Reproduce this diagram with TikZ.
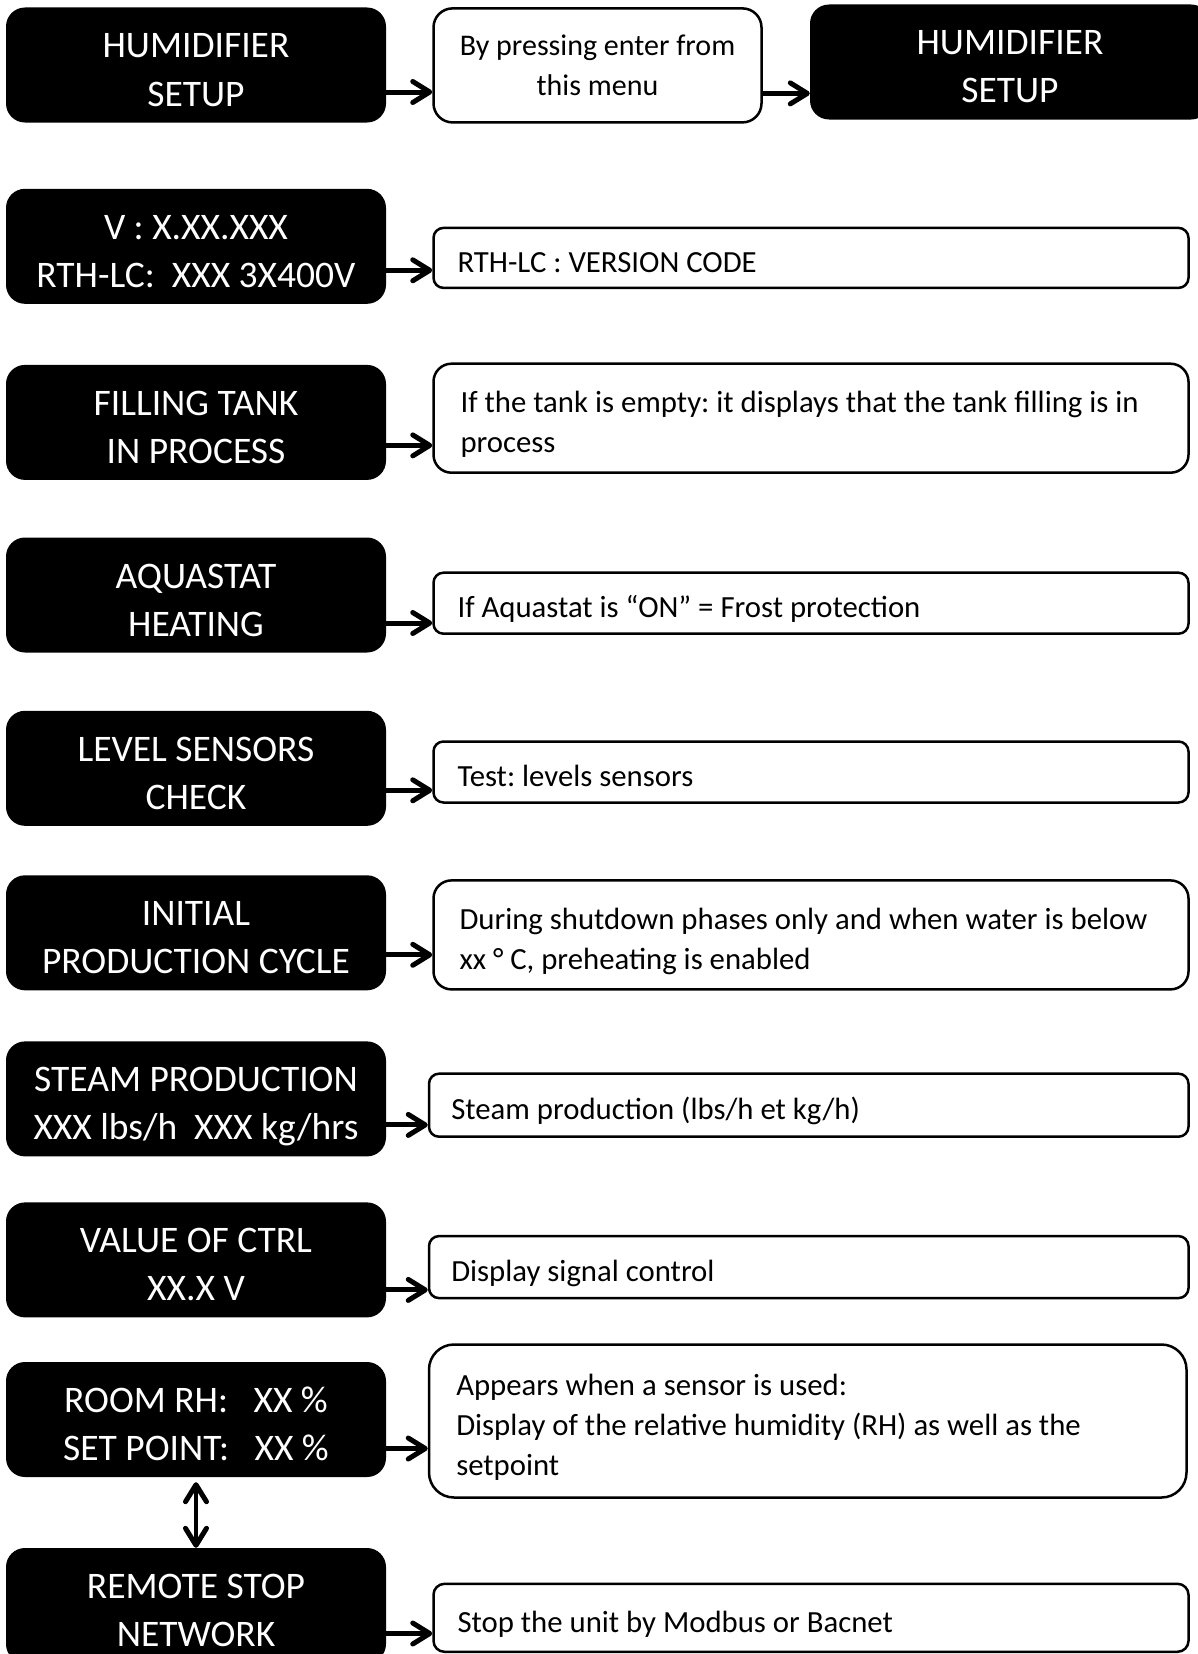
\documentclass[tikz,border=0pt]{standalone}
\usepackage{fontspec}
\setmainfont{Carlito}
\usetikzlibrary{arrows.meta,calc}
\newcommand\blktop{\rule{0pt}{42pt}}
\newcommand\blkbot{\rule[-8pt]{0pt}{8pt}}
\newcommand\whtop{\rule{0pt}{36pt}}
\newcommand\whbot{\rule[-7pt]{0pt}{7pt}}
\begin{document}
\frenchspacing
\begin{tikzpicture}[x=1pt,y=-1pt,
  blk/.style={fill=black,text=white,rounded corners=19pt,minimum width=380pt,minimum height=115pt,
    text width=376pt,align=flush center,inner sep=0pt,font=\fontsize{37.5}{48}\selectfont,
    execute at begin node=\blktop,execute at end node=\blkbot},
  wbox/.style={draw=black,line width=2.5pt,fill=white,minimum width=755pt,text width=707pt,
    align=flush left,inner xsep=24pt,inner ysep=0pt,font=\fontsize{30.75}{40}\selectfont,
    execute at begin node=\whtop,execute at end node=\whbot},
  tip/.tip={Straight Barb[length=17pt,width=21pt,line width=5pt,round]},
  arr/.style={line width=5pt,-tip},
  darr/.style={line width=4pt,tip-tip}]
\useasboundingbox (0,0) rectangle (1197,1654);
% row 1
\node[blk] (b1) at (196,65) {HUMIDIFIER\\SETUP};
\node[draw=black,line width=2.5pt,rounded corners=19pt,minimum width=328pt,minimum height=114pt,
  align=flush center,inner sep=0pt,font=\fontsize{30}{40}\selectfont] (m1) at (597.5,65.4) {By pressing enter from\\this menu};
\node[blk,minimum width=400pt] (r1) at (1010,62) {HUMIDIFIER\\SETUP};
% left column
\node[blk] (b2) at (196,246.3) {V : X.XX.XXX\\RTH-LC:\ \ XXX 3X400V};
\node[blk] (b3) at (196,422.4) {FILLING TANK\\IN PROCESS};
\node[blk] (b4) at (196,595) {AQUASTAT\\HEATING};
\node[blk] (b5) at (196,768.3) {LEVEL SENSORS\\CHECK};
\node[blk] (b6) at (196,932.8) {INITIAL\\PRODUCTION CYCLE};
\node[blk] (b7) at (196,1098.9) {STEAM PRODUCTION\\XXX lbs/h\ \ XXX kg/hrs};
\node[blk] (b8) at (196,1259.9) {VALUE OF CTRL\\XX.X V};
\node[blk] (b9) at (196,1419.5) {ROOM RH:\ \ \ XX \%\\SET POINT:\ \ \ XX \%};
\node[blk] (b10) at (196,1605.5) {REMOTE STOP\\NETWORK};
% right column
\node[wbox,rounded corners=10pt,minimum height=60pt] (w2) at (811,257.9) {RTH-LC : VERSION CODE};
\node[wbox,rounded corners=18pt,minimum height=109pt,inner xsep=27pt,text width=701pt] (w3) at (811,418.2) {If the tank is empty: it displays that the tank filling is in\\process};
\node[wbox,rounded corners=10pt,minimum height=61pt] (w4) at (811,603.2) {If Aquastat is “ON” = Frost protection};
\node[wbox,rounded corners=10pt,minimum height=61pt] (w5) at (811,772) {Test: levels sensors};
\node[wbox,rounded corners=18pt,minimum height=109pt,inner xsep=26pt,text width=703pt] (w6) at (811,934.9) {During shutdown phases only and when water is below\\xx ° C, preheating is enabled};
\node[wbox,rounded corners=10pt,minimum height=63pt,minimum width=759.5pt,inner xsep=22pt,text width=715pt] (w7) at (808.75,1105.2) {Steam production (lbs/h et kg/h)};
\node[wbox,rounded corners=10pt,minimum height=62pt,minimum width=759.5pt,inner xsep=22pt,text width=715pt] (w8) at (808.75,1267.1) {Display signal control};
\node[wbox,rounded corners=25pt,minimum height=153pt,minimum width=757.5pt,inner xsep=27pt,text width=703pt] (w9) at (807.75,1421) {Appears when a sensor is used:\\Display of the relative humidity (RH) as well as the\\setpoint};
\node[wbox,rounded corners=11pt,minimum height=68pt] (w10) at (811,1617.8) {Stop the unit by Modbus or Bacnet};
% arrows
\coordinate (a1) at ([yshift=-27pt]b1.east);
\draw[arr] (a1) -- (a1 -| m1.west);
\coordinate (a1b) at ([yshift=-28pt]m1.east);
\draw[arr] (a1b) -- (a1b -| r1.west);
\coordinate (a2) at ([yshift=-24pt]b2.east);
\draw[arr] (a2) -- (a2 -| w2.west);
\coordinate (a3) at ([yshift=-23pt]b3.east);
\draw[arr] (a3) -- (a3 -| w3.west);
\coordinate (a4) at ([yshift=-28pt]b4.east);
\draw[arr] (a4) -- (a4 -| w4.west);
\coordinate (a5) at ([yshift=-22pt]b5.east);
\draw[arr] (a5) -- (a5 -| w5.west);
\coordinate (a6) at ([yshift=-22pt]b6.east);
\draw[arr] (a6) -- (a6 -| w6.west);
\coordinate (a7) at ([yshift=-26pt]b7.east);
\draw[arr] (a7) -- (a7 -| w7.west);
\coordinate (a8) at ([yshift=-30pt]b8.east);
\draw[arr] (a8) -- (a8 -| w8.west);
\coordinate (a9) at ([yshift=-29pt]b9.east);
\draw[arr] (a9) -- (a9 -| w9.west);
\coordinate (a10) at ([yshift=-28pt]b10.east);
\draw[arr] (a10) -- (a10 -| w10.west);
\draw[darr] ([yshift=-5pt]b9.south) -- (b10.north);
\end{tikzpicture}
\end{document}
